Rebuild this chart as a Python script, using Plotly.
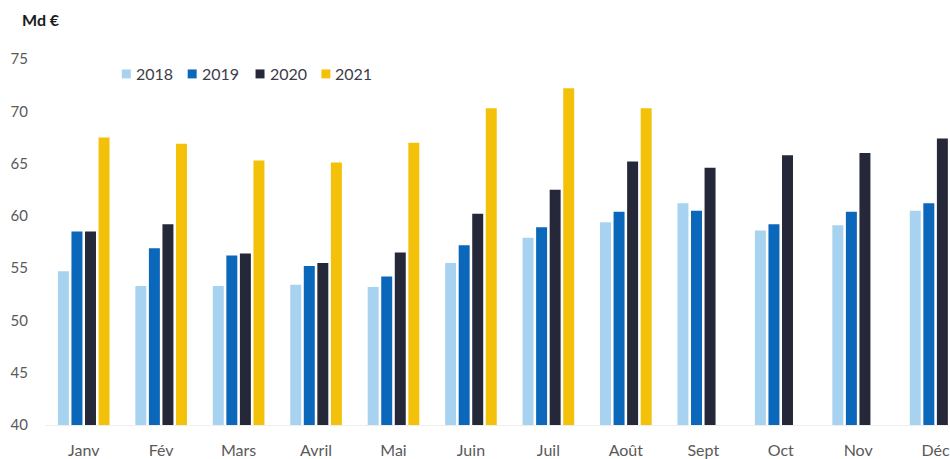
import plotly.graph_objects as go

months = ["Janv", "Fév", "Mars", "Avril", "Mai", "Juin", "Juil", "Août", "Sept", "Oct", "Nov", "Déc"]
v2018 = [54.7, 53.3, 53.3, 53.4, 53.2, 55.5, 57.9, 59.4, 61.2, 58.6, 59.1, 60.5]
v2019 = [58.5, 56.9, 56.2, 55.2, 54.2, 57.2, 58.9, 60.4, 60.5, 59.2, 60.4, 61.2]
v2020 = [58.5, 59.2, 56.4, 55.5, 56.5, 60.2, 62.5, 65.2, 64.6, 65.8, 66.0, 67.4]
v2021 = [67.5, 66.9, 65.3, 65.1, 67.0, 70.3, 72.2, 70.3, None, None, None, None]
years = ["2018", "2019", "2020", "2021"]
colors = ["#a8d3f0", "#0b67b9", "#252838", "#f4c10a"]
yticks = [40, 45, 50, 55, 60, 65, 70, 75]

W, H = 950, 459
ML, MR, MT, MB = 45, 0, 59, 32
PW, PH = W - ML - MR, H - MT - MB


def px(x):
    return (x - ML) / PW


def py(y):
    return (H - MB - y) / PH


fig = go.Figure()
for name, vals, col in zip(years, [v2018, v2019, v2020, v2021], colors):
    fig.add_trace(go.Bar(x=months, y=vals, name=name, marker=dict(color=col, line=dict(width=0))))

# manual legend (square + label) to match the original's compact spacing
leg_sq_x = [122, 188, 256, 322]
shapes, annos = [], []
for name, col, sx in zip(years, colors, leg_sq_x):
    shapes.append(dict(type="rect", xref="paper", yref="paper",
                       x0=px(sx), x1=px(sx + 9), y0=py(78.5), y1=py(69.5),
                       fillcolor=col, line=dict(width=0)))
    annos.append(dict(text=name, xref="paper", yref="paper", x=px(sx + 12), y=py(74),
                      xanchor="left", yanchor="middle", showarrow=False,
                      font=dict(size=16, color="#3c3c48")))
annos.append(dict(text="<b>Md €</b>", xref="paper", yref="paper", x=px(41), y=py(19),
                  xanchor="center", yanchor="middle", showarrow=False,
                  font=dict(size=16, color="#1a1a1a")))

fig.update_layout(
    width=W, height=H,
    margin=dict(l=ML, r=MR, t=MT, b=MB),
    paper_bgcolor="white", plot_bgcolor="white",
    barmode="group", bargap=0.3, bargroupgap=0.19,
    font=dict(family="Lato, Open Sans, sans-serif", size=14, color="#595959"),
    showlegend=False,
    xaxis=dict(range=[-0.5, 11.16], showgrid=False, showline=True, linecolor="#eeeeee",
               linewidth=1, ticks="", tickfont=dict(size=16, color="#595959"),
               ticklabelstandoff=11),
    yaxis=dict(range=[40, 75], tickvals=yticks, showgrid=False, zeroline=False,
               showline=False, ticks="", tickfont=dict(size=15, color="#595959"),
               ticklabelstandoff=16),
    shapes=shapes,
    annotations=annos,
)

fig.write_html("out.html")
